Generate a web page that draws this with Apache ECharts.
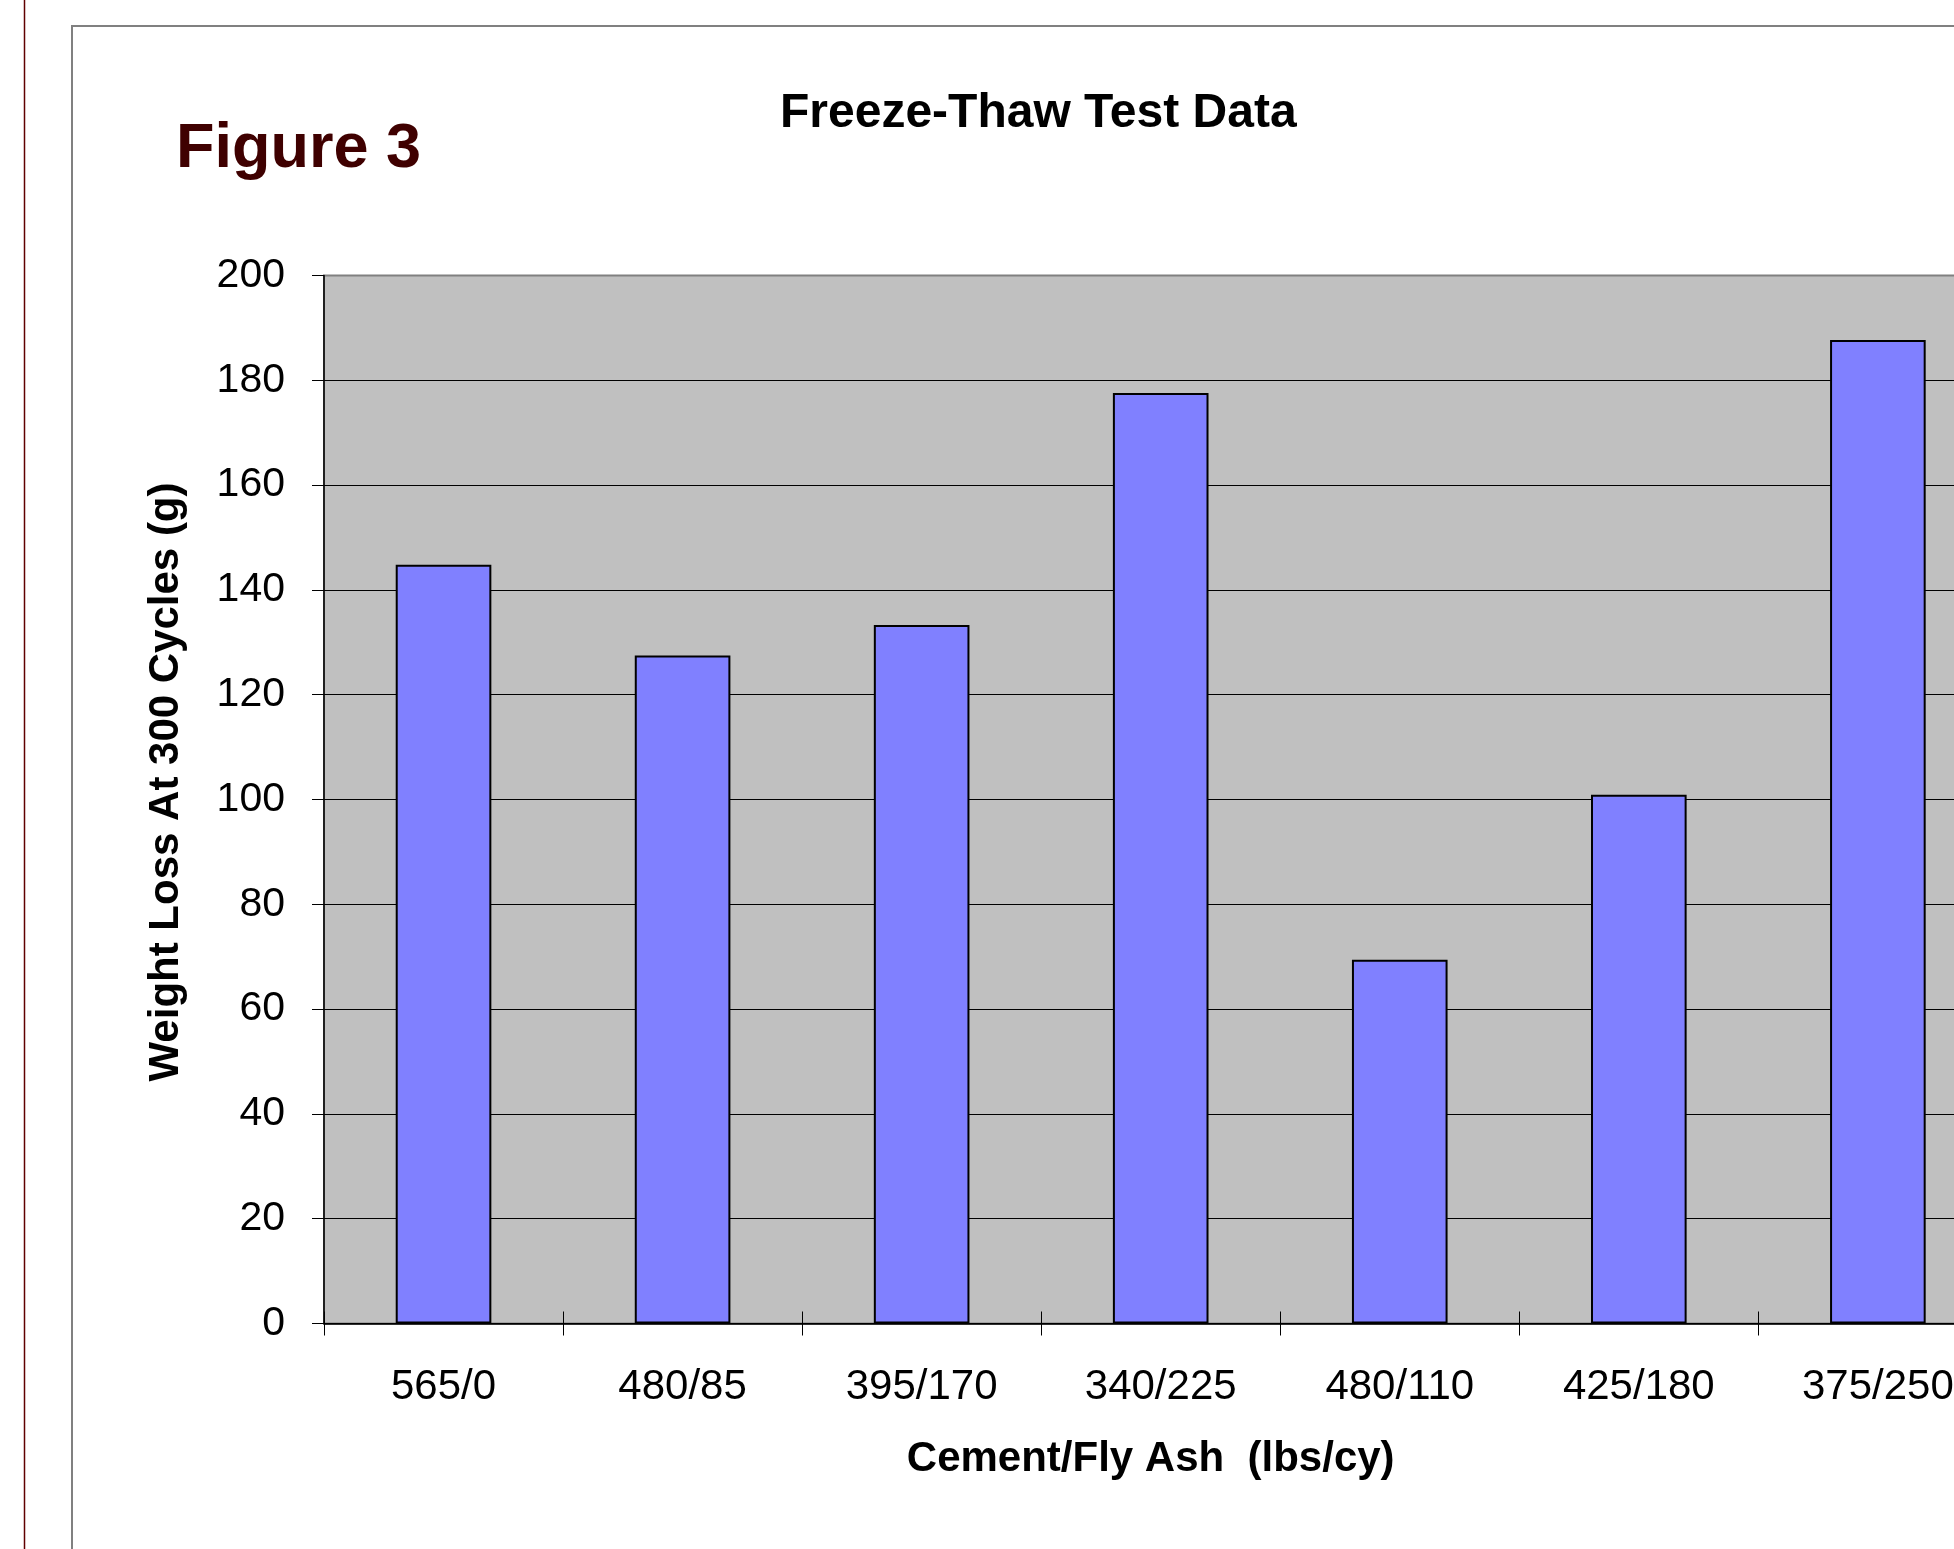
<!DOCTYPE html>
<html>
<head>
<meta charset="utf-8">
<title>Freeze-Thaw Test Data</title>
<script src="https://cdn.jsdelivr.net/npm/echarts@6/dist/echarts.min.js"></script>
<style>
    html, body { margin: 0; padding: 0; background: #fff; }
    #chart { width: 1954px; height: 1549px; }
</style>
</head>
<body>
<div id="chart"></div>
<script>
    // cement / fly ash mixes (lbs/cy)
    var mixes = ['565/0', '480/85', '395/170', '340/225', '480/110', '425/180', '375/250'];
    // weight loss at 300 cycles (g)
    var weightLoss = [144.8, 127.5, 133.3, 177.6, 69.4, 100.9, 187.7];
    var yTicks = { min: 0, max: 200, interval: 20 };

    var fontFamily = '"Liberation Sans", Arial, sans-serif';

    var option = {
        backgroundColor: '#ffffff',
        animation: false,
        title: [
            {
                text: 'Freeze-Thaw Test Data',
                left: 775,
                top: 85,
                textStyle: { fontFamily: fontFamily, fontSize: 48, fontWeight: 'bold', color: '#000' }
            },
            {
                text: 'Figure 3',
                left: 171,
                top: 113,
                textStyle: { fontFamily: fontFamily, fontSize: 63, fontWeight: 'bold', color: '#3f0000' }
            }
        ],
        graphic: [
            // page margin line
            { type: 'line', shape: { x1: 24.5, y1: 0, x2: 24.5, y2: 1549 }, style: { stroke: '#600000', lineWidth: 1.5 }, silent: true },
            // chart area frame (cut off right and bottom)
            { type: 'polyline', shape: { points: [[72, 1549], [72, 26], [1954, 26]] }, style: { stroke: '#808080', lineWidth: 2, fill: null }, silent: true }
        ],
        grid: {
            // plot runs past the right edge of the picture
            left: 324,
            top: 275.5,
            right: -43.4,
            bottom: 225.5,
            outerBoundsMode: 'none',
            containLabel: false,
            show: true,
            backgroundColor: '#c0c0c0',
            borderColor: '#808080',
            borderWidth: 2
        },
        xAxis: [
            {
                type: 'category',
                data: mixes,
                name: 'Cement/Fly Ash  (lbs/cy)',
                nameLocation: 'middle',
                nameGap: 115,
                nameTextStyle: { fontFamily: fontFamily, fontSize: 42, fontWeight: 'bold', color: '#000', padding: [0, 20, 0, 0] },
                axisLine: { lineStyle: { color: '#000', width: 1.5 } },
                axisTick: { show: true, inside: false, length: 12, lineStyle: { color: '#000', width: 1 } },
                axisLabel: { fontFamily: fontFamily, fontSize: 42, color: '#000', margin: 43, interval: 0 }
            },
            {
                // second category axis only for the inner half of the crossing ticks
                type: 'category',
                data: mixes,
                position: 'bottom',
                axisLine: { show: false },
                axisTick: { show: true, inside: true, length: 12, lineStyle: { color: '#000', width: 1 } },
                axisLabel: { show: false }
            }
        ],
        yAxis: {
            type: 'value',
            min: yTicks.min,
            max: yTicks.max,
            interval: yTicks.interval,
            name: 'Weight Loss At 300 Cycles (g)',
            nameLocation: 'middle',
            nameGap: 137,
            nameTextStyle: { fontFamily: fontFamily, fontSize: 42, fontWeight: 'bold', color: '#000', padding: [0, 0, 0, 35] },
            axisLine: { show: true, lineStyle: { color: '#000', width: 1.5 } },
            axisTick: { show: true, inside: false, length: 12, lineStyle: { color: '#000', width: 1 } },
            axisLabel: { fontFamily: fontFamily, fontSize: 41, color: '#000', margin: 39 },
            splitLine: { show: true, showMaxLine: false, lineStyle: { color: '#000', width: 1.2 } }
        },
        series: [
            {
                name: 'Weight Loss',
                type: 'bar',
                xAxisIndex: 0,
                barCategoryGap: '60%',
                itemStyle: { color: '#8080ff', borderColor: '#000', borderWidth: 2 },
                data: weightLoss
            }
        ]
    };

    var chart = echarts.init(document.getElementById('chart'));
    chart.setOption(option);

    window.addEventListener('resize', function () {
        chart.resize();
    });
</script>
</body>
</html>
